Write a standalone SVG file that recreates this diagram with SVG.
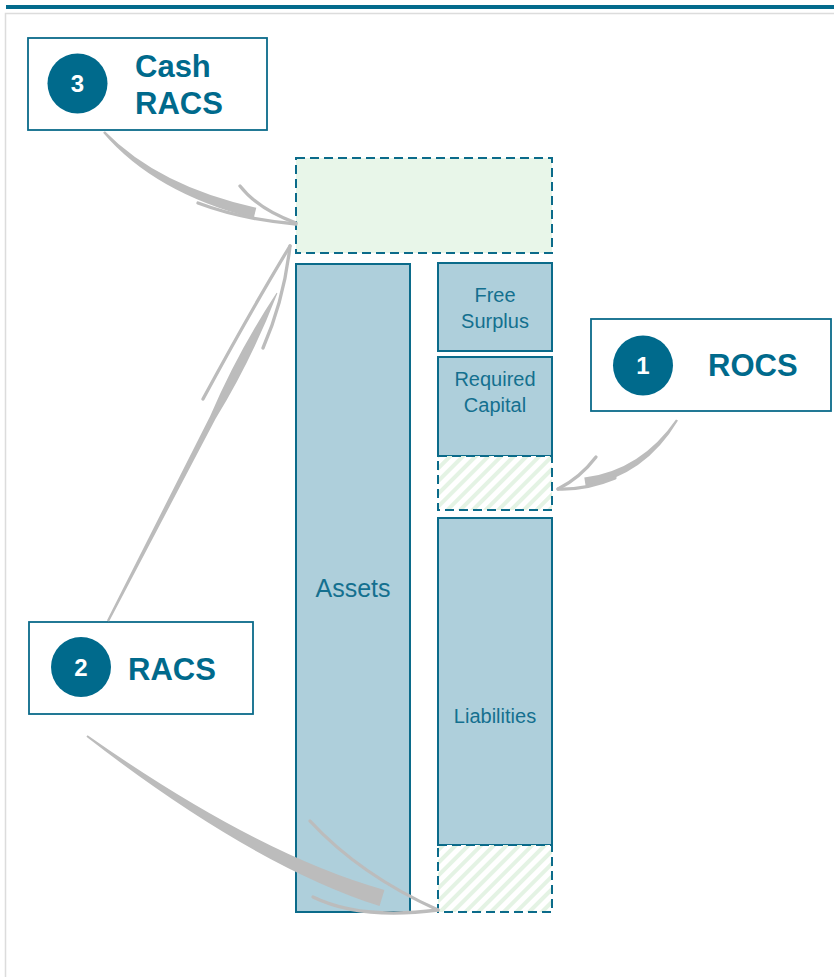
<svg xmlns="http://www.w3.org/2000/svg" width="834" height="977" viewBox="0 0 834 977">
  <defs>
    <pattern id="hatch" patternUnits="userSpaceOnUse" width="9" height="9" patternTransform="rotate(45)">
      <rect x="0" y="0" width="9" height="9" fill="#ffffff"/>
      <rect x="0" y="0" width="4" height="9" fill="#e4f3e4"/>
    </pattern>
    <style>
      .col { fill: #aecfdb; stroke: #0b6b8a; stroke-width: 2; }
      .dash { stroke: #0b6b8a; stroke-width: 2; stroke-dasharray: 9 5; }
      .callout { fill: #ffffff; stroke: #0b6b8a; stroke-width: 1.8; }
      .badge { fill: #006a8c; }
      .num { font-family: "Liberation Sans", Arial, sans-serif; font-weight: bold; font-size: 24px; fill: #ffffff; text-anchor: middle; }
      .title { font-family: "Liberation Sans", Arial, sans-serif; font-weight: bold; font-size: 31px; fill: #006a8c; }
      .lbl { font-family: "Liberation Sans", Arial, sans-serif; font-size: 20px; fill: #14708f; text-anchor: middle; }
      .brush { fill: #bcbcbc; }
      .barb { fill: none; stroke: #bcbcbc; stroke-width: 3.3; stroke-linecap: round; }
    </style>
  </defs>

  <!-- page frame -->
  <rect x="6" y="5" width="828" height="4" fill="#036b8c"/>
  <path d="M834,13.5 H5.5 V977" fill="none" stroke="#dcdcdc" stroke-width="1.5"/>

  <!-- balance sheet blocks -->
  <g id="cash-block">
    <rect x="296" y="158" width="256" height="95" fill="#e8f6e9" class="dash"/>
  </g>
  <g id="assets">
    <rect x="296" y="264" width="114" height="648" class="col"/>
    <text x="353" y="597" class="lbl" style="font-size:25px">Assets</text>
  </g>
  <g id="free-surplus">
    <rect x="438" y="263" width="114" height="88" class="col"/>
    <text x="495" y="302" class="lbl">Free</text>
    <text x="495" y="328" class="lbl">Surplus</text>
  </g>
  <g id="required-capital">
    <rect x="438" y="357" width="114" height="99" class="col"/>
    <text x="495" y="386" class="lbl">Required</text>
    <text x="495" y="412" class="lbl">Capital</text>
  </g>
  <g id="rc-release">
    <rect x="438" y="456" width="114" height="54" fill="url(#hatch)" class="dash"/>
  </g>
  <g id="liabilities">
    <rect x="438" y="518" width="114" height="327" class="col"/>
    <text x="495" y="723" class="lbl">Liabilities</text>
  </g>
  <g id="liab-release">
    <rect x="438" y="845" width="114" height="67" fill="url(#hatch)" class="dash"/>
  </g>

  <!-- callouts -->
  <g id="callout-3">
    <rect x="28" y="38" width="239" height="92" class="callout"/>
    <circle cx="77.5" cy="83.5" r="30" class="badge"/>
    <text x="77.5" y="92" class="num">3</text>
    <text x="135" y="77" class="title">Cash</text>
    <text x="135" y="114" class="title">RACS</text>
  </g>
  <g id="callout-1">
    <rect x="591" y="319" width="240" height="92" class="callout"/>
    <circle cx="643" cy="365.5" r="30" class="badge"/>
    <text x="643" y="374" class="num">1</text>
    <text x="708" y="376" class="title">ROCS</text>
  </g>
  <g id="callout-2">
    <rect x="29" y="622" width="224" height="92" class="callout"/>
    <circle cx="81" cy="667" r="30" class="badge"/>
    <text x="81" y="675.5" class="num">2</text>
    <text x="128" y="680" class="title">RACS</text>
  </g>

  <!-- brush-stroke connectors -->
  <g id="connectors">
    <!-- 3: Cash RACS to cash block -->
    <path class="brush" d="M104.9,131.2 Q158.4,186 256.3,207.7 L253.7,218.3 Q154.6,193 103.1,132.8 Z"/>
    <path class="barb" d="M240,186 Q258,209 296,223"/>
    <path class="barb" d="M198,203 Q240,219 296,224"/>

    <!-- 2: RACS up to cash block -->
    <path class="brush" d="M106.9,620.5 L210.2,416 Q237.9,351.5 276.6,292.8 L277.4,293.2 Q252.1,358.9 215.6,418.8 L109.1,621.5 Z"/>
    <path class="barb" d="M203,399 Q250,312 290,246"/>
    <path class="barb" d="M263,348 Q284,300 290,246"/>

    <!-- 2: RACS down to liability release -->
    <path class="brush" d="M87.6,735.2 Q257.9,854.7 384.4,889.9 L379.6,906.1 Q252.1,865.3 86.4,736.8 Z"/>
    <path class="barb" d="M310,821 Q360,875 438,910"/>
    <path class="barb" d="M313,897 Q360,920 438,910"/>

    <!-- 1: ROCS to required capital release -->
    <path class="brush" d="M676,419.4 Q641,470.1 584.3,477.6 L585.7,486.4 Q645,475.9 678,420.6 Z"/>
    <path class="barb" d="M596,457 Q580,478 558,489"/>
    <path class="barb" d="M615,478 Q586,490 558,489"/>
  </g>
</svg>
